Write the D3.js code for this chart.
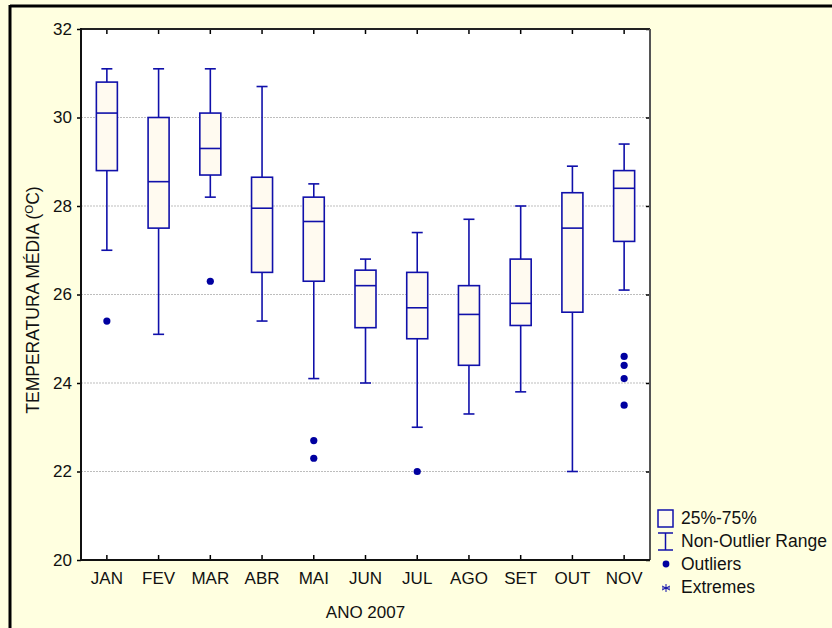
<!DOCTYPE html>
<html>
<head>
<meta charset="utf-8">
<script src="https://cdn.jsdelivr.net/npm/d3@7"></script>
<style>
  html, body { margin: 0; padding: 0; background: #FFFFE0; }
  svg { display: block; }
  text { font-family: "Liberation Sans", Arial, Helvetica, sans-serif; fill: #111; }
</style>
</head>
<body>
<svg id="chart" width="832" height="628"></svg>
<script>
// Monthly mean temperature, 2007
const months   = ["JAN", "FEV", "MAR", "ABR", "MAI", "JUN", "JUL", "AGO", "SET", "OUT", "NOV"];
const whiskHi  = [31.1, 31.1, 31.1, 30.7, 28.5, 26.8, 27.4, 27.7, 28.0, 28.9, 29.4];
const q3       = [30.8, 30.0, 30.1, 28.65, 28.2, 26.55, 26.5, 26.2, 26.8, 28.3, 28.8];
const medians  = [30.1, 28.55, 29.3, 27.95, 27.65, 26.2, 25.7, 25.55, 25.8, 27.5, 28.4];
const q1       = [28.8, 27.5, 28.7, 26.5, 26.3, 25.25, 25.0, 24.4, 25.3, 25.6, 27.2];
const whiskLo  = [27.0, 25.1, 28.2, 25.4, 24.1, 24.0, 23.0, 23.3, 23.8, 22.0, 26.1];
const outliers = [[25.4], [], [26.3], [], [22.7, 22.3], [], [22.0], [], [], [], [24.6, 24.4, 24.1, 23.5]];
const yTicks   = [20, 22, 24, 26, 28, 30, 32];
const legendItems = ["25%-75%", "Non-Outlier Range", "Outliers", "Extremes"];

const blue = "#1010aa";
const dotBlue = "#0000a0";
const boxFill = "#fffaf0";
const fs = "17px";

const svg = d3.select("#chart");
const plot = { left: 81, top: 29, right: 650, bottom: 560 };

// outer frame lines (top and left)
svg.append("line").attr("x1", 10).attr("x2", 832).attr("y1", 6).attr("y2", 6)
  .attr("stroke", "#000").attr("stroke-width", 3);
svg.append("line").attr("x1", 10).attr("x2", 10).attr("y1", 5).attr("y2", 628)
  .attr("stroke", "#000").attr("stroke-width", 3);

// plot background
svg.append("rect")
  .attr("x", plot.left).attr("y", plot.top)
  .attr("width", plot.right - plot.left).attr("height", plot.bottom - plot.top)
  .attr("fill", "#fff");

const x = d3.scaleBand().domain(months).range([plot.left, plot.right]).paddingInner(0).paddingOuter(0);
const y = d3.scaleLinear().domain([20, 32]).range([plot.bottom, plot.top]);
const cx = m => x(m) + x.bandwidth() / 2;

// gridlines
svg.append("g").selectAll("line")
  .data(yTicks.filter(t => t > 20 && t < 32))
  .join("line")
  .attr("x1", plot.left).attr("x2", plot.right)
  .attr("y1", d => y(d)).attr("y2", d => y(d))
  .attr("stroke", "#bdbdbd").attr("stroke-width", 1)
  .attr("stroke-dasharray", "2,1");

// axes
const leftAxis = d3.axisLeft(y).tickValues(yTicks).tickSize(4).tickPadding(5).tickFormat(d3.format("d"));
const gl = svg.append("g").attr("transform", `translate(${plot.left},0)`).call(leftAxis);
gl.select(".domain").remove();
gl.selectAll(".tick line").attr("stroke", "#000").attr("stroke-width", 1.5);
gl.selectAll(".tick text").style("font-size", fs).attr("fill", "#111");

const rightAxis = d3.axisRight(y).tickValues(yTicks).tickSize(-4).tickFormat("");
const gr = svg.append("g").attr("transform", `translate(${plot.right},0)`).call(rightAxis);
gr.select(".domain").remove();
gr.selectAll(".tick line").attr("stroke", "#000").attr("stroke-width", 1.5);

const bottomAxis = d3.axisBottom(x).tickSize(-5).tickPadding(12);
const gb = svg.append("g").attr("transform", `translate(0,${plot.bottom})`).call(bottomAxis);
gb.select(".domain").remove();
gb.selectAll(".tick line").attr("stroke", "#000").attr("stroke-width", 1.5);
gb.selectAll(".tick text").style("font-size", fs).attr("fill", "#111");

const topAxis = d3.axisTop(x).tickSize(-5).tickFormat("");
const gt = svg.append("g").attr("transform", `translate(0,${plot.top})`).call(topAxis);
gt.select(".domain").remove();
gt.selectAll(".tick line").attr("stroke", "#000").attr("stroke-width", 1.5);

// plot frame
svg.append("line").attr("x1", plot.left).attr("x2", plot.right).attr("y1", plot.top).attr("y2", plot.top)
  .attr("stroke", "#222").attr("stroke-width", 2);
svg.append("line").attr("x1", plot.right).attr("x2", plot.right).attr("y1", plot.top).attr("y2", plot.bottom)
  .attr("stroke", "#555").attr("stroke-width", 2);
svg.append("line").attr("x1", plot.left).attr("x2", plot.left).attr("y1", plot.top - 1).attr("y2", plot.bottom + 1)
  .attr("stroke", "#111").attr("stroke-width", 2);
svg.append("line").attr("x1", plot.left).attr("x2", plot.right).attr("y1", plot.bottom).attr("y2", plot.bottom)
  .attr("stroke", "#111").attr("stroke-width", 2);

// boxes
const boxW = 21, capW = 11;
const g = svg.append("g");
months.forEach((m, i) => {
  const c = cx(m);
  const mk = g.append("g");
  // whisker stems
  mk.append("line").attr("x1", c).attr("x2", c).attr("y1", y(whiskHi[i])).attr("y2", y(q3[i]))
    .attr("stroke", blue).attr("stroke-width", 1.6);
  mk.append("line").attr("x1", c).attr("x2", c).attr("y1", y(q1[i])).attr("y2", y(whiskLo[i]))
    .attr("stroke", blue).attr("stroke-width", 1.6);
  // caps
  [whiskHi[i], whiskLo[i]].forEach(v => {
    mk.append("line").attr("x1", c - capW / 2).attr("x2", c + capW / 2).attr("y1", y(v)).attr("y2", y(v))
      .attr("stroke", blue).attr("stroke-width", 1.6);
  });
  // box
  mk.append("rect").attr("x", c - boxW / 2).attr("y", y(q3[i]))
    .attr("width", boxW).attr("height", y(q1[i]) - y(q3[i]))
    .attr("fill", boxFill).attr("stroke", blue).attr("stroke-width", 1.6);
  // median
  mk.append("line").attr("x1", c - boxW / 2).attr("x2", c + boxW / 2).attr("y1", y(medians[i])).attr("y2", y(medians[i]))
    .attr("stroke", blue).attr("stroke-width", 1.6);
  // outliers
  mk.selectAll("circle").data(outliers[i]).join("circle")
    .attr("cx", c).attr("cy", d => y(d)).attr("r", 3.6).attr("fill", dotBlue);
});

// axis titles
svg.append("text")
  .attr("x", (plot.left + plot.right) / 2).attr("y", 618)
  .attr("text-anchor", "middle").style("font-size", fs)
  .text("ANO 2007");

const yt = svg.append("text")
  .attr("transform", `translate(39,300) rotate(-90)`)
  .attr("text-anchor", "middle").style("font-size", "17.5px");
yt.append("tspan").text("TEMPERATURA MÉDIA (");
yt.append("tspan").attr("dy", -6).style("font-size", "11.5px").text("O");
yt.append("tspan").attr("dy", 6).text("C)");

// legend
const lg = svg.append("g");
const lx = 658, ls = 15;
const rows = [518, 541, 564, 587];
lg.append("rect").attr("x", lx).attr("y", 510).attr("width", ls).attr("height", 17)
  .attr("fill", boxFill).attr("stroke", blue).attr("stroke-width", 1.5);
lg.append("line").attr("x1", lx).attr("x2", lx + ls).attr("y1", 533).attr("y2", 533).attr("stroke", blue).attr("stroke-width", 1.5);
lg.append("line").attr("x1", lx).attr("x2", lx + ls).attr("y1", 550).attr("y2", 550).attr("stroke", blue).attr("stroke-width", 1.5);
lg.append("line").attr("x1", lx + ls / 2).attr("x2", lx + ls / 2).attr("y1", 533).attr("y2", 550).attr("stroke", blue).attr("stroke-width", 1.5);
lg.append("circle").attr("cx", lx + ls / 2 + 0.5).attr("cy", 564).attr("r", 3.4).attr("fill", dotBlue);
// extremes asterisk
const ax = lx + ls / 2 + 0.5, ay = 588, a = 4;
[[0, -a, 0, a], [-a, -a * 0.5, a, a * 0.5], [-a, a * 0.5, a, -a * 0.5], [-a, 0, a, 0]].forEach(s => {
  lg.append("line").attr("x1", ax + s[0]).attr("y1", ay + s[1]).attr("x2", ax + s[2]).attr("y2", ay + s[3])
    .attr("stroke", blue).attr("stroke-width", 1);
});
lg.selectAll("text.li").data(legendItems).join("text")
  .attr("class", "li")
  .attr("x", 681).attr("y", (d, i) => rows[i]).attr("dy", "0.35em")
  .style("font-size", "17.5px")
  .text(d => d);
</script>
</body>
</html>
